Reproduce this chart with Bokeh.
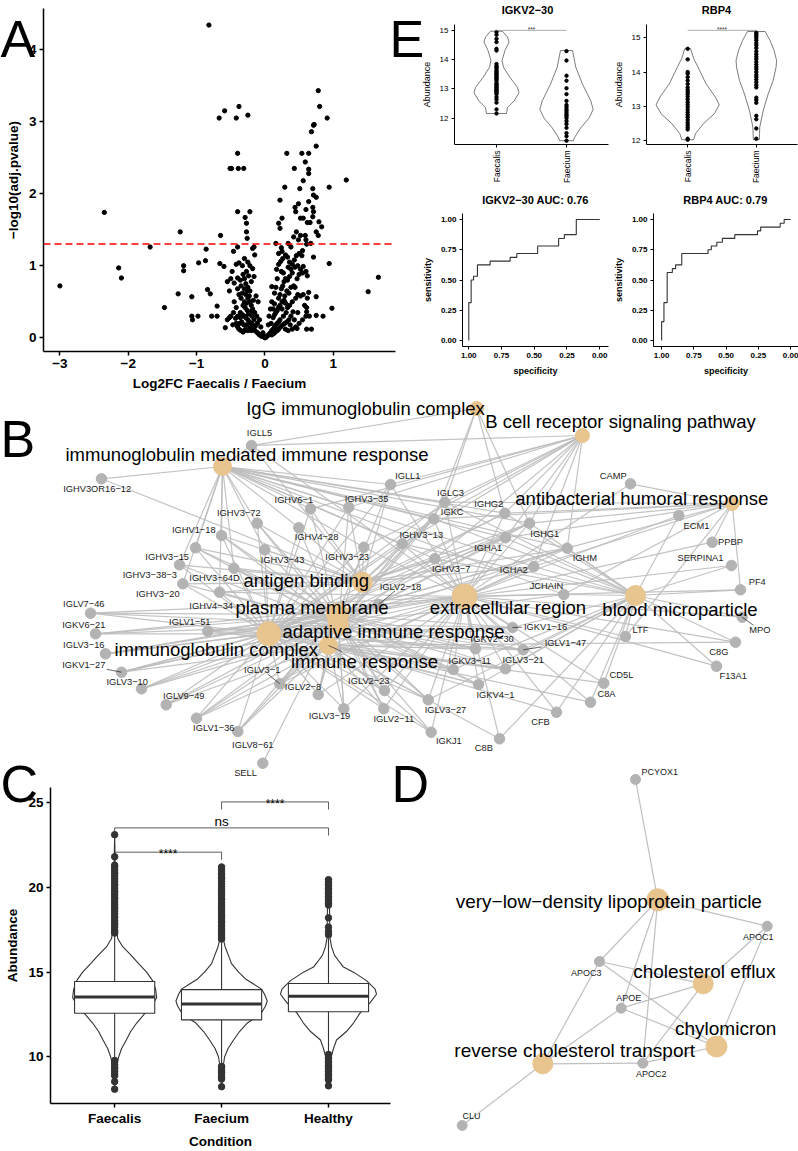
import math
from bokeh.plotting import figure
from bokeh.models import Range1d, FixedTicker, Span, GridBox, NumeralTickFormatter, Column
from bokeh.core.properties import value
from bokeh.embed import file_html
from bokeh.resources import INLINE

FONT = "Liberation Sans"
FV = value(FONT)
MINUS = "\u2212"

# ======================= DATA =======================
# ---- Panel A: volcano ----
volcano_log2fc = [
    -0.82, -2.35, -3.0, -2.14, -2.10, -1.68, -1.47, -1.24, -1.27, -1.19, -1.19, -1.07, -1.07, -1.06, -0.98,
    -0.97, -0.86, -0.87, -0.84, -0.80, -0.78, -0.70, -0.70, -0.66, -0.65, -0.67, -0.59, -0.38, -0.42, -0.25,
    -0.40, -0.51, -0.49, -0.39, -0.31, -0.40, -0.22, -0.29, -0.27, -0.27, -0.26, -0.40, -0.16, -0.46,
    1.19, 0.94, 0.80, 0.78, 0.91, 0.72, 0.71, 0.68, 0.75, 0.32, 0.54, 0.64, 0.59, 0.64, 0.64, 0.43, 0.56, 0.29,
    0.51, 0.70, 0.71, 0.75, 0.22, 0.64, 0.49, 0.44, 0.45, 0.60, 0.70, 0.71, 0.25, 0.52, 0.56, 0.70, 0.20, 0.62,
    0.66, 0.79, 0.83, 0.22, 0.46, 0.75, 0.78, 0.42, 0.52, 0.59, 0.49, 0.60, 0.67, 0.61, 0.16, 0.34, 0.38, 0.24,
    0.55, 0.71, 0.94, 0.54, 1.66, 1.51, 0.98, 0.85, 0.75, 0.68, 0.61, 0.47, 0.75, 0.64, 0.61, 0.61, 0.10,
    -0.05, -0.08, -0.1, -0.12, -0.15, -0.17, -0.2, -0.22, -0.25, -0.28, -0.3, -0.32, -0.35, -0.38, -0.4, -0.14,
    -0.18, -0.2, -0.23, -0.25, -0.28, -0.3, -0.33, -0.36, -0.4, -0.43, -0.46, -0.5, -0.55, -0.58, -0.12, -0.15,
    -0.18, -0.2, -0.22, -0.25, -0.28, -0.3, -0.32, -0.35, -0.38, -0.42, -0.45, -0.22, -0.25, -0.28, -0.3, -0.32,
    -0.36, -0.4, -0.45, -0.5, -0.55, -0.6, -0.2, -0.16, -0.18, -0.22, -0.25, -0.3, -0.33, -0.38, -0.42, -0.15,
    -0.18, -0.48, -0.52, -0.27, -0.24, -0.13, -0.1, -0.08, -0.06, -0.03, -0.11, -0.16, -0.19, -0.26, -0.29,
    -0.34, -0.37, -0.42, -0.47, -0.52, -0.27, -0.31, -0.36, -0.24, -0.21, -0.17, -0.27, -0.33, -0.3, -0.26,
    -0.35, -0.4, -0.23,
    0.02, 0.04, 0.06, 0.08, 0.1, 0.12, 0.14, 0.16, 0.18, 0.2, 0.22, 0.1, 0.13, 0.15, 0.18, 0.2, 0.23, 0.26,
    0.29, 0.32, 0.35, 0.38, 0.3, 0.34, 0.4, 0.45, 0.5, 0.55, 0.6, 0.65, 0.12, 0.14, 0.16, 0.18, 0.2, 0.22,
    0.25, 0.28, 0.3, 0.33, 0.36, 0.4, 0.45, 0.48, 0.52, 0.56, 0.2, 0.22, 0.24, 0.26, 0.28, 0.3, 0.33, 0.36,
    0.4, 0.42, 0.44, 0.47, 0.5, 0.52, 0.55, 0.6, 0.18, 0.17, 0.2, 0.23, 0.26, 0.3, 0.33, 0.36, 0.4, 0.43,
    0.46, 0.5, 0.2, 0.25, 0.16, 0.14, 0.1, 0.08, 0.06, 0.05, 0.09, 0.27, 0.31, 0.41, 0.43, 0.37, 0.48, 0.58,
    0.62, 0.35, 0.38, 0.32, 0.29, 0.25, 0.44, 0.38, 0.34, 0.27, 0.24, 0.48, 0.56, 0.62, 0.14, 0.12, -0.01,
    0.0, 0.01, -0.02]
volcano_neglog10_padj = [
    4.34, 1.74, 0.72, 0.97, 0.83, 1.26, 0.42, 1.47, 0.61, 1.0, 0.93, 0.57, 0.30, 0.25, 0.30,
    1.04, 1.23, 1.07, 0.67, 0.61, 0.30, 0.30, 0.44, 1.03, 1.42, 3.05, 3.15, 3.21, 3.05, 3.09,
    2.56, 2.35, 2.35, 2.35, 2.35, 1.75, 1.75, 1.67, 1.59, 1.47, 1.38, 1.26, 1.26, 1.20,
    2.19, 2.09, 3.21, 3.43, 3.05, 2.96, 2.95, 2.86, 2.66, 2.56, 2.56, 2.56, 2.44, 2.34, 2.28, 2.35, 2.18, 2.09,
    2.07, 2.07, 1.98, 1.95, 1.91, 1.89, 1.86, 1.81, 1.75, 1.78, 1.81, 1.75, 1.66, 1.66, 1.66, 1.68, 1.59, 1.60,
    1.60, 1.61, 1.54, 1.52, 1.47, 1.47, 1.42, 1.40, 1.42, 1.42, 1.36, 1.36, 1.31, 1.30, 1.31, 1.31, 1.26, 1.25,
    1.21, 1.12, 1.03, 1.14, 0.84, 0.64, 0.41, 0.30, 0.31, 0.12, 0.12, 0.13, 0.57, 0.63, 0.42, 0.36, 0.71,
    0.02, 0.04, 0.06, 0.08, 0.1, 0.12, 0.1, 0.14, 0.1, 0.12, 0.1, 0.08, 0.1, 0.12, 0.15, 0.16,
    0.18, 0.2, 0.22, 0.25, 0.28, 0.3, 0.32, 0.35, 0.3, 0.27, 0.35, 0.3, 0.25, 0.14, 0.3, 0.35,
    0.4, 0.45, 0.5, 0.55, 0.6, 0.5, 0.45, 0.55, 0.6, 0.42, 0.5, 0.65, 0.7, 0.75, 0.82, 0.88,
    0.8, 0.83, 0.76, 0.82, 0.78, 0.99, 0.78, 0.85, 0.96, 1.0, 1.05, 1.1, 1.0, 1.04, 1.02, 1.15,
    1.24, 0.92, 0.65, 0.92, 0.86, 0.58, 0.5, 0.25, 0.15, 0.07, 0.2, 0.25, 0.3, 0.38, 0.42,
    0.22, 0.2, 0.2, 0.18, 0.28, 0.18, 0.18, 0.28, 0.33, 0.36, 0.52, 0.48, 0.62, 0.68, 0.65,
    0.72, 0.68, 0.58,
    0.01, 0.03, 0.05, 0.07, 0.1, 0.12, 0.15, 0.18, 0.2, 0.22, 0.25, 0.04, 0.06, 0.08, 0.1, 0.12, 0.15, 0.18,
    0.2, 0.22, 0.25, 0.3, 0.12, 0.1, 0.12, 0.15, 0.2, 0.25, 0.3, 0.3, 0.28, 0.32, 0.35, 0.38, 0.42, 0.45,
    0.5, 0.52, 0.48, 0.42, 0.45, 0.5, 0.55, 0.6, 0.58, 0.6, 0.55, 0.6, 0.68, 0.72, 0.78, 0.82, 0.8, 0.85,
    0.9, 0.72, 0.7, 0.82, 0.88, 0.95, 0.9, 0.92, 0.82, 0.95, 1.02, 1.06, 1.1, 1.15, 1.12, 1.05, 1.02, 1.08,
    1.14, 1.17, 1.17, 1.2, 0.7, 0.62, 0.5, 0.4, 0.3, 0.18, 0.2, 0.3, 0.35, 0.36, 0.25, 0.18, 0.35, 0.45,
    0.55, 0.62, 0.7, 0.65, 0.58, 0.4, 0.98, 0.95, 0.98, 0.9, 0.92, 1.0, 0.99, 0.86, 0.47, 0.4, 0.01,
    0.0, 0.02, 0.03]
padj_threshold = 0.05

# ---- Panel E: violins ----
e_groups = ["Faecalis", "Faecium"]
igkv_faecalis = [14.94, 14.85, 14.71, 14.6, 14.37, 14.31, 13.85, 13.78, 13.74, 13.68, 13.62, 13.58, 13.53,
                 13.5, 13.45, 13.41, 13.37, 13.33, 13.28, 13.2, 13.16, 13.12, 13.07, 13.03, 12.99, 12.95,
                 12.91, 12.87, 12.82, 12.72, 12.64, 12.53, 12.30, 12.16]
igkv_faecium = [14.29, 13.97, 13.45, 13.28, 13.02, 12.82, 12.59, 12.45, 12.38, 12.3, 12.25, 12.18, 12.12,
                12.07, 12.0, 11.9, 11.8, 11.67, 11.49, 11.38, 11.23]
rbp4_faecalis = [14.68, 14.37, 14.0, 13.95, 13.85, 13.75, 13.65, 13.55, 13.48, 13.42, 13.35, 13.28, 13.2,
                 13.12, 13.05, 12.98, 12.9, 12.82, 12.75, 12.68, 12.6, 12.52, 12.45, 12.38, 12.32, 12.05, 12.02]
rbp4_faecium = [15.15, 15.1, 15.05, 15.0, 14.93, 14.85, 14.78, 14.7, 14.6, 14.52, 14.45, 14.38, 14.3, 14.22,
                14.15, 14.08, 14.0, 13.92, 13.85, 13.78, 13.7, 13.62, 13.55, 13.25, 13.18, 13.1, 12.72,
                12.62, 12.35, 12.05]
igkv_faecalis_lvl = [12.16, 12.36, 12.59, 12.87, 13.05, 13.39, 13.74, 13.97, 14.31, 14.6, 14.77, 14.97]
igkv_faecalis_den = [0.143, 0.157, 0.253, 0.321, 0.300, 0.193, 0.100, 0.079, 0.121, 0.179, 0.157, 0.086]
igkv_faecium_lvl = [11.23, 11.32, 11.67, 12.01, 12.30, 12.59, 13.16, 13.74, 14.31]
igkv_faecium_den = [0.100, 0.110, 0.204, 0.324, 0.381, 0.347, 0.229, 0.133, 0.086]
rbp4_faecalis_lvl = [12.02, 12.2, 12.49, 12.78, 13.04, 13.27, 13.66, 14.14, 14.4, 14.68]
rbp4_faecalis_den = [0.086, 0.115, 0.230, 0.388, 0.460, 0.403, 0.266, 0.151, 0.086, 0.043]
rbp4_faecium_lvl = [12.02, 12.39, 12.88, 13.36, 13.75, 14.14, 14.34, 14.63, 14.92, 15.185]
rbp4_faecium_den = [0.043, 0.050, 0.101, 0.173, 0.245, 0.288, 0.295, 0.259, 0.201, 0.129]
igkv_sig_y, igkv_sig = 15.0, "***"
rbp4_sig_y, rbp4_sig = 15.22, "****"

# ---- Panel E: ROC curves ----
roc_igkv_spec = [1.0, 1.0, 0.982, 0.982, 0.964, 0.964, 0.934, 0.934, 0.837, 0.837, 0.684, 0.684, 0.633, 0.633,
                 0.474, 0.474, 0.314, 0.314, 0.270, 0.270, 0.179, 0.179, 0.0]
roc_igkv_sens = [0.0, 0.3125, 0.3125, 0.5, 0.5, 0.53125, 0.53125, 0.625, 0.625, 0.65625, 0.65625, 0.6875,
                 0.6875, 0.71875, 0.71875, 0.78125, 0.78125, 0.84375, 0.84375, 0.875, 0.875, 1.0, 1.0]
roc_rbp4_spec = [1.0, 1.0, 0.982, 0.982, 0.957, 0.957, 0.917, 0.917, 0.892, 0.892, 0.844, 0.844, 0.640, 0.640,
                 0.615, 0.615, 0.572, 0.572, 0.529, 0.529, 0.433, 0.433, 0.257, 0.257, 0.232, 0.232, 0.081,
                 0.081, 0.050, 0.050, 0.0]
roc_rbp4_sens = [0.0, 0.156, 0.156, 0.3125, 0.3125, 0.5625, 0.5625, 0.594, 0.594, 0.625, 0.625, 0.719, 0.719,
                 0.75, 0.75, 0.781, 0.781, 0.8125, 0.8125, 0.844, 0.844, 0.875, 0.875, 0.906, 0.906, 0.9375,
                 0.9375, 0.969, 0.969, 1.0, 1.0]
roc_titles = ["IGKV2" + MINUS + "30 AUC: 0.76", "RBP4 AUC: 0.79"]

# ---- Panel C: abundance by condition ----
c_groups = ["Faecalis", "Faecium", "Healthy"]
c_q1 = [12.58, 12.19, 12.67]
c_med = [13.54, 13.12, 13.58]
c_q3 = [14.45, 13.97, 14.33]
c_wlo = [9.9, 9.6, 10.3]
c_whi = [17.2, 16.9, 17.0]
c_out_faecalis = [23.1, 21.8, 21.3, 21.2, 21.05, 20.9, 20.8, 20.65, 20.5, 20.35, 20.2, 20.1, 19.95, 19.8, 19.7,
                  19.55, 19.4, 19.3, 19.15, 19.0, 18.85, 18.75, 18.6, 18.45, 18.3, 18.2, 18.05, 17.9, 17.8,
                  17.65, 17.5, 17.4, 17.3, 9.8, 9.7, 9.55, 9.4, 9.3, 9.15, 9.0, 8.9, 8.55, 8.1]
c_out_faecium = [21.2, 21.05, 20.9, 20.75, 20.6, 20.5, 20.35, 20.2, 20.05, 19.9, 19.8, 19.65, 19.5, 19.35,
                 19.25, 19.1, 18.95, 18.8, 18.7, 18.55, 18.4, 18.3, 18.15, 18.0, 17.9, 17.75, 17.6, 17.5,
                 17.35, 17.2, 17.05, 16.95, 9.45, 9.35, 9.2, 9.1, 8.95, 8.8, 8.7, 8.25]
c_out_healthy = [20.45, 20.35, 20.2, 20.1, 19.95, 19.85, 19.7, 19.6, 19.45, 19.35, 19.2, 19.05, 18.95, 18.2,
                 17.65, 17.4, 17.2, 10.15, 10.0, 9.9, 9.75, 9.65, 9.5, 9.4, 9.25, 9.15, 9.0, 8.9, 8.75,
                 8.65, 8.3]
c_vio_faecalis_lvl = [8.0, 8.5, 9.5, 10, 10.5, 11, 11.5, 12, 12.6, 13, 13.5, 14, 14.5, 15, 15.5, 16, 16.5, 17,
                      18, 20, 23.1]
c_vio_faecalis_den = [0, 0.005, 0.019, 0.037, 0.065, 0.109, 0.150, 0.206, 0.287, 0.346, 0.393, 0.383, 0.355,
                      0.299, 0.224, 0.153, 0.075, 0.028, 0.014, 0.009, 0]
c_vio_faecium_lvl = [8.2, 9, 9.6, 10, 10.5, 11, 11.5, 12, 12.5, 13, 13.3, 13.7, 14, 14.3, 14.6, 15, 15.5, 16,
                     16.5, 17, 19, 21.2]
c_vio_faecium_den = [0, 0.009, 0.019, 0.028, 0.061, 0.112, 0.168, 0.240, 0.364, 0.411, 0.427, 0.402, 0.374,
                     0.299, 0.224, 0.159, 0.093, 0.063, 0.033, 0.014, 0.009, 0]
c_vio_healthy_lvl = [8.3, 9, 10, 10.5, 11, 11.5, 12, 12.6, 13.2, 13.7, 14, 14.5, 15, 15.3, 15.6, 16, 16.5, 17,
                     19, 20.4]
c_vio_healthy_den = [0, 0.009, 0.025, 0.047, 0.075, 0.168, 0.234, 0.296, 0.390, 0.449, 0.436, 0.355, 0.234,
                     0.140, 0.103, 0.056, 0.028, 0.014, 0.009, 0]
c_sig_from = [1, 1, 2]
c_sig_to = [2, 3, 3]
c_sig_y = [22.07, 23.5, 25.03]
c_sig_label = ["****", "ns", "****"]

# ---- Panel B: gene-concept network (layout coordinates) ----
term_codes = ["IGG", "BCR", "IMM", "ABH", "AGB", "PM", "EXR", "BMP", "IGC", "AIR", "IR"]
term_names = ["IgG immunoglobulin complex", "B cell receptor signaling pathway",
              "immunoglobulin mediated immune response", "antibacterial humoral response",
              "antigen binding", "plasma membrane", "extracellular region", "blood microparticle",
              "immunoglobulin complex", "adaptive immune response", "immune response"]
term_x = [476, 582, 222, 731.7, 361.7, 337, 464, 635, 268.3, 338, 328]
term_y = [408, 435, 466, 503, 581.7, 614, 596, 595, 633.3, 624, 645]
term_size = [14, 14, 18, 14, 20, 22, 25, 20, 24, 20, 18]
term_lx = [365, 620, 246.5, 641.3, 305.8, 311.5, 507.5, 679.5, 215.8, 393, 364]
term_ly = [408, 421, 454, 498.3, 580, 606.7, 606.7, 609, 649.3, 630.7, 661]

gene_names = ["IGLL5", "IGLL1", "IGHV3OR16-12", "IGHV6-1", "IGHV3-35", "IGHV3-72", "IGHV4-28", "IGHV1-18",
              "IGHV3-15", "IGHV3-43", "IGHV3-23", "IGHV3-38-3", "IGHV3-64D", "IGHV3-20", "IGHV4-34",
              "IGHV3-13", "IGHV3-7", "IGLV7-46", "IGKV6-21", "IGLV1-51", "IGLV3-16", "IGKV1-27", "IGLV3-10",
              "IGLV9-49", "IGLV1-36", "IGLV8-61", "SELL", "IGLV3-1", "IGLV2-8", "IGLV3-19", "IGLV2-23",
              "IGLV2-11", "IGLV3-27", "IGKJ1", "IGKV3-11", "IGKV4-1", "C8B", "IGKV1-16", "IGKV2-30",
              "IGLV1-47", "IGLV3-21", "CFB", "C8A", "CD5L", "LTF", "C8G", "F13A1", "MPO", "CAMP", "IGHG2",
              "IGLC3", "IGKC", "IGHG1", "ECM1", "PPBP", "IGHA1", "IGHM", "SERPINA1", "IGHA2", "JCHAIN",
              "PF4", "IGLV2-18"]
gene_x = [251, 390, 101, 310, 348.3, 256.7, 298.3, 221, 195, 264.3, 363.3, 179, 233.3, 182.3, 219, 401.7,
          434.3, 90, 95, 207.3, 105, 121, 141, 165.7, 196, 237.3, 262.3, 279.3, 317.7, 343.3, 384, 383.3,
          427.7, 430.7, 452.7, 478, 499, 512, 475, 522.7, 505, 556, 590, 603.3, 625, 735, 716, 741.7, 630,
          504.3, 444.3, 433.3, 529, 678.3, 711.7, 505, 566.7, 731, 533.3, 563.3, 740, 378]
gene_y = [445, 484, 478.3, 508.3, 506.7, 522.7, 527.3, 535, 547.3, 549.3, 546.7, 564.3, 567.7, 583.3, 591.7,
          543.3, 558.3, 612.7, 633.3, 630.7, 653.3, 671.7, 688.3, 704.3, 717.7, 731, 762.7, 683.3, 694,
          708.3, 690, 708.3, 699.3, 731.7, 669, 684, 738.3, 627, 648.3, 649.3, 668.3, 711.7, 701.7, 682.7,
          636, 641.7, 665.7, 616.7, 483.3, 512.7, 501.7, 518.3, 522.7, 515, 541.7, 537.3, 547.7, 565, 566,
          594, 589.3, 604]
gene_lx = [259, 407.3, 96.7, 293.3, 366, 238.3, 316, 193.3, 166.7, 282, 346.7, 149.3, 214, 157.3, 210.7,
           420.8, 450.7, 83.3, 83.3, 189.3, 83.3, 83.3, 126.7, 183.3, 213.3, 252.3, 245, 261.7, 302.5, 329,
           368.3, 393.3, 445, 448.3, 469.3, 495, 483.3, 545, 491.7, 565, 522.7, 540, 606, 621, 640, 718.3,
           732.7, 759.3, 612.7, 488.3, 450, 451.7, 544.3, 696, 730, 487.7, 584.3, 700, 513.3, 546, 756.7, 400]
gene_ly = [432, 475, 488.3, 499.3, 498.3, 512.7, 536.7, 529.3, 556, 559, 556, 574.3, 577.7, 593.3, 605, 534,
           568.3, 603.3, 624.3, 621.7, 644.3, 664.3, 681, 695, 727.7, 744.3, 772.3, 669, 686, 715, 680.7,
           718.3, 709.3, 740.7, 660, 694, 747.7, 626, 638.3, 642.7, 659.3, 721, 693.3, 674.3, 629.3, 651,
           675.7, 629.3, 475, 503.3, 492.7, 511.7, 533.3, 525, 541, 547.7, 557.3, 557.3, 569, 585, 581.7, 586]
gene_links = {
    "IGLL5": "IGG IMM BCR AGB EXR", "IGLL1": "IMM BCR AGB PM EXR IGC", "IGHV3OR16-12": "IMM AGB",
    "IGHV6-1": "IMM AGB IGC AIR BCR", "IGHV3-35": "IMM AGB IGC AIR BCR", "IGHV3-72": "IMM AGB IGC AIR PM",
    "IGHV4-28": "IMM AGB IGC AIR", "IGHV1-18": "IMM AGB IGC AIR PM", "IGHV3-15": "IMM AGB IGC AIR PM",
    "IGHV3-43": "IMM AGB IGC AIR", "IGHV3-23": "IMM AGB IGC AIR BCR EXR", "IGHV3-38-3": "IMM AGB IGC AIR",
    "IGHV3-64D": "IMM AGB IGC AIR PM", "IGHV3-20": "IMM AGB IGC AIR", "IGHV4-34": "IMM AGB IGC AIR EXR",
    "IGHV3-13": "IMM AGB IGC AIR BCR EXR BMP", "IGHV3-7": "IMM AGB IGC AIR BCR EXR BMP",
    "IGLV7-46": "IGC AIR PM EXR", "IGKV6-21": "IGC AIR PM EXR", "IGLV1-51": "IGC AIR PM EXR IR",
    "IGLV3-16": "IGC AIR PM EXR", "IGKV1-27": "IGC AIR PM EXR IR", "IGLV3-10": "IGC AIR PM EXR",
    "IGLV9-49": "IGC AIR PM EXR", "IGLV1-36": "IGC AIR PM EXR IR", "IGLV8-61": "IGC AIR PM IR", "SELL": "PM",
    "IGLV3-1": "IGC AIR PM EXR IR", "IGLV2-8": "IGC AIR PM EXR IR", "IGLV3-19": "IGC AIR PM EXR IR",
    "IGLV2-23": "IGC AIR PM EXR IR", "IGLV2-11": "IGC AIR PM EXR IR", "IGLV3-27": "IGC AIR PM EXR IR BMP",
    "IGKJ1": "IGC AIR IR EXR", "IGKV3-11": "IGC AIR PM EXR IR BMP", "IGKV4-1": "IGC AIR PM EXR IR BMP",
    "C8B": "EXR BMP IR", "IGKV1-16": "IGC AIR PM EXR IR BMP", "IGKV2-30": "IGC AIR PM EXR IR",
    "IGLV1-47": "IGC AIR PM EXR IR BMP", "IGLV3-21": "IGC AIR PM EXR IR BMP", "CFB": "EXR BMP IR",
    "C8A": "EXR BMP IR", "CD5L": "EXR BMP IR", "LTF": "EXR BMP ABH", "C8G": "EXR BMP IR", "F13A1": "EXR BMP",
    "MPO": "EXR BMP", "CAMP": "ABH EXR", "IGHG2": "IGG BCR ABH AGB EXR BMP IGC IMM",
    "IGLC3": "IGG BCR ABH EXR BMP IGC IMM AIR", "IGKC": "IGG BCR ABH AGB EXR BMP IGC IMM AIR PM",
    "IGHG1": "IGG BCR ABH AGB EXR BMP IGC IMM AIR PM", "ECM1": "EXR BMP", "PPBP": "ABH EXR",
    "IGHA1": "BCR ABH AGB EXR BMP IGC IMM AIR", "IGHM": "BCR ABH AGB EXR BMP IGC IMM AIR PM",
    "SERPINA1": "EXR BMP", "IGHA2": "BCR ABH AGB EXR BMP IGC IMM", "JCHAIN": "EXR BMP ABH IGC IMM",
    "PF4": "EXR BMP ABH", "IGLV2-18": "IGC AIR PM EXR IR"}
gene_leader = ["IGKV1-27", "IGLV3-1", "IGLV2-18", "IGKV1-16", "IGLV1-47", "MPO"]
term_leader = ["immune response"]

# ---- Panel D: lipoprotein network ----
d_term_codes = ["VLDL", "CE", "CHY", "RCT"]
d_term_names = ["very-low-density lipoprotein particle", "cholesterol efflux", "chylomicron",
                "reverse cholesterol transport"]
d_term_x = [657.3, 702.7, 716, 542.3]
d_term_y = [899.3, 983.3, 1046, 1063.3]
d_term_size = [22, 20, 21, 20]
d_term_lx = [608.3, 703.8, 725.2, 574.2]
d_term_ly = [900.7, 970.7, 1028.3, 1050]
d_gene_names = ["PCYOX1", "APOC1", "APOC3", "APOE", "APOC2", "CLU"]
d_gene_x = [635, 766.7, 599, 620.7, 642.3, 461.7]
d_gene_y = [779, 925.7, 961, 1007.7, 1062.7, 1125]
d_gene_lx = [659.3, 757.7, 585.7, 628.3, 650.7, 471]
d_gene_ly = [771, 936, 972.7, 997.7, 1073.3, 1115]
d_gene_links = {"PCYOX1": "VLDL", "APOC1": "VLDL CE CHY", "APOC3": "VLDL CE CHY RCT",
                "APOE": "VLDL CE CHY RCT", "APOC2": "VLDL CE CHY RCT", "CLU": "RCT"}

# ======================= HELPERS =======================
def style(p, tick_size, tick_bold, lab_size, lab_bold, lw=1.0, tick_out=4):
    for ax in p.axis:
        ax.axis_line_width = lw
        ax.axis_line_color = "black"
        ax.major_tick_line_width = lw
        ax.major_tick_line_color = "black"
        ax.major_tick_out = tick_out
        ax.major_tick_in = 0
        ax.minor_tick_line_color = None
        ax.major_label_text_font = FONT
        ax.major_label_text_font_size = tick_size
        ax.major_label_text_font_style = "bold" if tick_bold else "normal"
        ax.major_label_text_color = "black"
        ax.major_label_standoff = 3
        ax.axis_label_text_font = FONT
        ax.axis_label_text_font_size = lab_size
        ax.axis_label_text_font_style = "bold" if lab_bold else "normal"
        ax.axis_label_text_color = "black"
        ax.axis_label_standoff = 5
    p.grid.visible = False
    p.outline_line_color = None


def violin_xy(center, lvls, dens):
    xs = [center + d for d in dens] + [center - d for d in reversed(dens)]
    ys = list(lvls) + list(reversed(lvls))
    return xs, ys


def leader(nx, ny, lx, ly, hw, hh):
    dx, dy = nx - lx, ny - ly
    m = max(abs(dx) / hw, abs(dy) / hh)
    if m <= 1:
        return None
    t = 1.0 / m
    return (lx + t * dx, ly + t * dy, nx, ny)


def disp(s):
    return s.replace("-", MINUS)


def wrap(p):
    # own container so that the grid does not align plot frames across cells
    return Column(children=[p], spacing=0)

# ======================= PANEL A =======================
n = min(len(volcano_log2fc), len(volcano_neglog10_padj))
pA = figure(width=400, height=395, x_range=Range1d(-3.24, 1.91), y_range=Range1d(-0.19, 4.57),
            output_backend="svg", toolbar_location=None, tools="", title=None,
            min_border_left=43, min_border_right=5, min_border_top=8, min_border_bottom=44)
style(pA, "13.5px", True, "13.5px", True, lw=1.5)
pA.xaxis.ticker = FixedTicker(ticks=[-3, -2, -1, 0, 1])
pA.xaxis.major_label_overrides = {-3: MINUS + "3", -2: MINUS + "2", -1: MINUS + "1"}
pA.yaxis.ticker = FixedTicker(ticks=[0, 1, 2, 3, 4])
pA.xaxis.axis_label = "Log2FC Faecalis / Faecium"
pA.yaxis.axis_label = MINUS + "log10(adj.pvalue)"
pA.scatter(volcano_log2fc[:n], volcano_neglog10_padj[:n], size=4.3, color="black")
pA.add_layout(Span(location=-math.log10(padj_threshold), dimension="width", line_color="#FF0000",
                   line_dash="7 4", line_width=1.5))

# ======================= PANEL E =======================
def e_violin(width, left, right, yr, data, sig_y, sig):
    p = figure(width=width, height=190, x_range=Range1d(0.4, 2.6), y_range=Range1d(*yr),
               output_backend="svg", toolbar_location=None, tools="", title=None,
               min_border_left=left, min_border_right=right, min_border_top=24, min_border_bottom=46)
    style(p, "8px", False, "9px", False, lw=1.0, tick_out=3)
    p.xaxis.ticker = FixedTicker(ticks=[1, 2])
    p.xaxis.major_label_overrides = {1: e_groups[0], 2: e_groups[1]}
    p.xaxis.major_label_orientation = math.pi / 2
    p.xaxis.major_label_text_font_size = "8.5px"
    p.yaxis.ticker = FixedTicker(ticks=[12, 13, 14, 15])
    p.yaxis.axis_label = "Abundance"
    for i, (lvl, den, pts) in enumerate(data):
        c = i + 1
        xs, ys = violin_xy(c, lvl, den)
        p.patch(xs, ys, fill_color=None, line_color="#444444", line_width=0.7)
        p.scatter([c] * len(pts), pts, size=3.4, color="black")
    p.line([1, 2], [sig_y, sig_y], line_color="#888888", line_width=0.7)
    p.text([1.5], [sig_y + 0.03], text=[sig], text_font=FV, text_font_size="6.5px",
           text_align="center", text_baseline="alphabetic", text_color="#333333")
    return p


pE1 = e_violin(210, 54, 2, (11.1, 15.2),
               [(igkv_faecalis_lvl, igkv_faecalis_den, igkv_faecalis),
                (igkv_faecium_lvl, igkv_faecium_den, igkv_faecium)], igkv_sig_y, igkv_sig)
pE2 = e_violin(188, 34, 1, (11.88, 15.39),
               [(rbp4_faecalis_lvl, rbp4_faecalis_den, rbp4_faecalis),
                (rbp4_faecium_lvl, rbp4_faecium_den, rbp4_faecium)], rbp4_sig_y, rbp4_sig)


def e_roc(width, left, right, xr, spec, sens):
    p = figure(width=width, height=205, x_range=Range1d(*xr), y_range=Range1d(-0.05, 1.05),
               output_backend="svg", toolbar_location=None, tools="", title=None,
               min_border_left=left, min_border_right=right, min_border_top=23, min_border_bottom=49)
    style(p, "8px", True, "9px", True, lw=1.0, tick_out=3)
    p.xaxis.ticker = FixedTicker(ticks=[1, 0.75, 0.5, 0.25, 0])
    p.yaxis.ticker = FixedTicker(ticks=[0, 0.25, 0.5, 0.75, 1])
    p.xaxis.formatter = NumeralTickFormatter(format="0.00")
    p.yaxis.formatter = NumeralTickFormatter(format="0.00")
    p.xaxis.axis_label = "specificity"
    p.yaxis.axis_label = "sensitivity"
    p.line(spec, sens, line_color="#333333", line_width=1.1)
    return p


pE3 = e_roc(210, 62, 2, (1.048, -0.067), roc_igkv_spec, roc_igkv_sens)
pE4 = e_roc(188, 40, 0, (1.063, -0.061), roc_rbp4_spec, roc_rbp4_sens)

# ======================= PANEL C =======================
pC = figure(width=400, height=411, x_range=Range1d(0.4, 3.58), y_range=Range1d(7.26, 25.88),
            output_backend="svg", toolbar_location=None, tools="", title=None,
            min_border_left=50, min_border_right=10, min_border_top=47, min_border_bottom=40)
style(pC, "13.5px", True, "13.5px", True, lw=1.5)
pC.xaxis.ticker = FixedTicker(ticks=[1, 2, 3])
pC.xaxis.major_label_overrides = {1: c_groups[0], 2: c_groups[1], 3: c_groups[2]}
pC.yaxis.ticker = FixedTicker(ticks=[10, 15, 20, 25])
pC.xaxis.axis_label = "Condition"
pC.yaxis.axis_label = "Abundance"
dark = "#333333"
vio = [(c_vio_faecalis_lvl, c_vio_faecalis_den), (c_vio_faecium_lvl, c_vio_faecium_den),
       (c_vio_healthy_lvl, c_vio_healthy_den)]
for i, (lvl, den) in enumerate(vio):
    xs, ys = violin_xy(i + 1, lvl, den)
    pC.patch(xs, ys, fill_color="white", line_color=dark, line_width=1.1)
cats = [1, 2, 3]
bw = 0.375
pC.segment(x0=cats, y0=c_wlo, x1=cats, y1=c_whi, line_color=dark, line_width=1.1)
pC.quad(left=[c - bw for c in cats], right=[c + bw for c in cats], bottom=c_q1, top=c_q3,
        fill_color="white", line_color=dark, line_width=1.1)
pC.segment(x0=[c - bw for c in cats], y0=c_med, x1=[c + bw for c in cats], y1=c_med,
           line_color=dark, line_width=3)
for i, outs in enumerate([c_out_faecalis, c_out_faecium, c_out_healthy]):
    pC.scatter([i + 1] * len(outs), outs, size=6.5, color=dark)
bx, by = [], []
for a, b, y in zip(c_sig_from, c_sig_to, c_sig_y):
    bx.append([a, a, b, b])
    by.append([y - 0.45, y, y, y - 0.45])
pC.multi_line(bx, by, line_color=dark, line_width=0.8)
tx = [(a + b) / 2 for a, b in zip(c_sig_from, c_sig_to)]
ty = [y + (0.38 if lab == "ns" else -0.12) for y, lab in zip(c_sig_y, c_sig_label)]
tsz = ["13.5px" if lab == "ns" else "12px" for lab in c_sig_label]
pC.text(tx, ty, text=c_sig_label, text_font=FV, text_font_size=tsz,
        text_align="center", text_baseline="alphabetic", text_color="black")

# ======================= OVERLAY: networks B & D, panel letters, titles =======================
ov = figure(width=798, height=1151, x_range=Range1d(0, 798), y_range=Range1d(1151, 0),
            output_backend="svg", toolbar_location=None, tools="", x_axis_type=None, y_axis_type=None,
            title=None, min_border=0, min_border_left=0, min_border_right=0, min_border_top=0,
            min_border_bottom=0, background_fill_color=None, border_fill_color=None, outline_line_color=None)
ov.grid.visible = False

edge_col = "#bdbdbd"
gray = "#b3b3b3"
tan = "#E8C48E"

tidx = {c: i for i, c in enumerate(term_codes)}
ex0, ey0, ex1, ey1 = [], [], [], []
for gname, gx, gy in zip(gene_names, gene_x, gene_y):
    for code in gene_links[gname].split():
        k = tidx[code]
        ex0.append(gx); ey0.append(gy); ex1.append(term_x[k]); ey1.append(term_y[k])
ov.segment(ex0, ey0, ex1, ey1, line_color=edge_col, line_width=1.2, line_alpha=0.9)

didx = {c: i for i, c in enumerate(d_term_codes)}
dx0, dy0, dx1, dy1 = [], [], [], []
for gname, gx, gy in zip(d_gene_names, d_gene_x, d_gene_y):
    for code in d_gene_links[gname].split():
        k = didx[code]
        dx0.append(gx); dy0.append(gy); dx1.append(d_term_x[k]); dy1.append(d_term_y[k])
ov.segment(dx0, dy0, dx1, dy1, line_color=edge_col, line_width=1.2, line_alpha=0.95)

ov.scatter(gene_x, gene_y, size=10.5, color=gray)
ov.scatter(term_x, term_y, size=term_size, color=tan)
ov.scatter(d_gene_x, d_gene_y, size=10, color=gray)
ov.scatter(d_term_x, d_term_y, size=d_term_size, color=tan)

lx0, ly0, lx1, ly1 = [], [], [], []
for gname, gx, gy, lx, ly in zip(gene_names, gene_x, gene_y, gene_lx, gene_ly):
    if gname in gene_leader:
        seg = leader(gx, gy, lx, ly, len(gname) * 2.95, 4.5)
        if seg:
            lx0.append(seg[0]); ly0.append(seg[1]); lx1.append(seg[2]); ly1.append(seg[3])
for tname, tx_, ty_, lx, ly in zip(term_names, term_x, term_y, term_lx, term_ly):
    if tname in term_leader:
        seg = leader(tx_, ty_, lx, ly, len(tname) * 4.8, 10)
        if seg:
            lx0.append(seg[0]); ly0.append(seg[1]); lx1.append(seg[2]); ly1.append(seg[3])
ov.segment(lx0, ly0, lx1, ly1, line_color="#222222", line_width=0.7)

ov.text(gene_lx, gene_ly, text=[disp(g) for g in gene_names], text_font=FV, text_font_size="9.3px",
        text_align="center", text_baseline="middle", text_color="#1a1a1a")
ov.text(term_lx, term_ly, text=term_names, text_font=FV, text_font_size="18.5px",
        text_align="center", text_baseline="middle", text_color="black")
ov.text(d_gene_lx, d_gene_ly, text=d_gene_names, text_font=FV, text_font_size="9px",
        text_align="center", text_baseline="middle", text_color="#1a1a1a")
ov.text(d_term_lx, d_term_ly, text=[disp(t) for t in d_term_names], text_font=FV, text_font_size="19px",
        text_align="center", text_baseline="middle", text_color="black")

ov.text([527, 716], [9, 9], text=["IGKV2" + MINUS + "30", "RBP4"], text_font=FV, text_font_size="11px",
        text_font_style="bold", text_align="center", text_baseline="middle", text_color="black")
ov.text([535, 725], [199, 199], text=roc_titles, text_font=FV, text_font_size="11px",
        text_font_style="bold", text_align="center", text_baseline="middle", text_color="black")

ov.text([0, 389, 0, 0, 391], [38, 38, 438, 783, 783], text=["A", "E", "B", "C", "D"], text_font=FV,
        text_font_size="52px", text_align="left", text_baseline="alphabetic", text_color="black")

# ======================= LAYOUT =======================
grid = GridBox(children=[(wrap(pA), 0, 0, 2, 1), (wrap(pE1), 0, 1), (wrap(pE2), 0, 2),
                         (wrap(pE3), 1, 1), (wrap(pE4), 1, 2), (wrap(pC), 3, 0), (wrap(ov), 0, 0, 4, 3)],
               rows=["190px", "205px", "345px", "411px"], cols=["400px", "210px", "188px"], spacing=0)

open("out.html", "w").write(file_html(grid, INLINE))
